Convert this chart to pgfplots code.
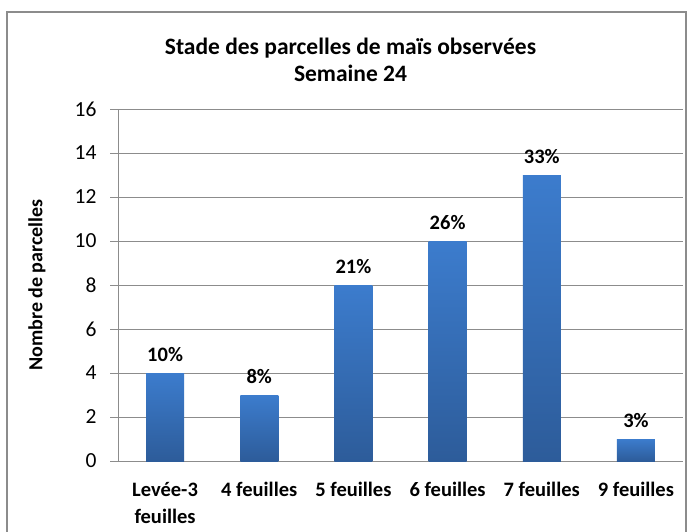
\documentclass[border=0pt]{standalone}
\usepackage{pgfplots}
\pgfplotsset{compat=1.18}
\usepackage{fontspec}
\setmainfont{Carlito}
\definecolor{bartop}{HTML}{3C7CCD}
\definecolor{barbot}{HTML}{2D5C9A}
\definecolor{gridc}{HTML}{8C8C8C}
\begin{document}
\begin{tikzpicture}[x=1pt,y=1pt]
\path[use as bounding box] (0,0) rectangle (691,531);
\draw[gridc, line width=1.2pt] (7,-5) -- (7,519) -- (686,519) -- (686,-5);
\node[font=\fontsize{23.5}{27}\selectfont\bfseries, align=center] at (350.5,471.5) {Stade des parcelles de maïs observées\\Semaine 24};
\begin{axis}[
  at={(118pt,70pt)}, anchor=south west, scale only axis,
  width=565pt, height=352pt,
  ymin=0, ymax=16, ytick={0,2,...,16},
  xmin=0.5, xmax=6.5,
  xtick={1,...,6},
  xticklabels={{Levée-3\\[1.5pt]feuilles},{4 feuilles},{5 feuilles},{6 feuilles},{7 feuilles},{9 feuilles}},
  xticklabel style={font=\fontsize{20.5}{25}\selectfont\bfseries, align=center, anchor=north, yshift=-10pt},
  yticklabel style={font=\fontsize{21.5}{24}\selectfont, xshift=-10pt},
  /pgf/number format/assume math mode=true,
  major x tick style={draw=none},
  extra x ticks={0.5,1.5,2.5,3.5,4.5,5.5,6.5},
  extra x tick labels={},
  extra x tick style={major tick length=7pt, tick style={draw=gridc, line width=1pt}, grid=none},
  tick align=outside,
  major tick length=8pt,
  ytick style={draw=gridc, line width=1pt},
  axis x line*=bottom, axis y line*=left,
  axis line style={draw=gridc, line width=1pt, -},
  ymajorgrids, grid style={draw=gridc, line width=1pt},
  ylabel={Nombre de parcelles},
  ylabel style={font=\fontsize{20}{24}\selectfont\bfseries, at={(axis description cs:0,0.5)}, anchor=center, yshift=81pt},
  ybar, bar width=38pt,
  point meta=explicit symbolic,
  nodes near coords,
  nodes near coords style={font=\fontsize{20.5}{24}\selectfont\bfseries, text=black, anchor=south, yshift=8pt},
  cycle list={{draw=none, top color=bartop, bottom color=barbot}},
  every axis plot/.append style={draw=none, top color=bartop, bottom color=barbot, bar shift=0pt},
]
\addplot coordinates {(1,4) [10\%]};
\addplot coordinates {(2,3) [8\%]};
\addplot coordinates {(3,8) [21\%]};
\addplot coordinates {(4,10) [26\%]};
\addplot coordinates {(5,13) [33\%]};
\addplot coordinates {(6,1) [3\%]};
\end{axis}
\end{tikzpicture}
\end{document}
